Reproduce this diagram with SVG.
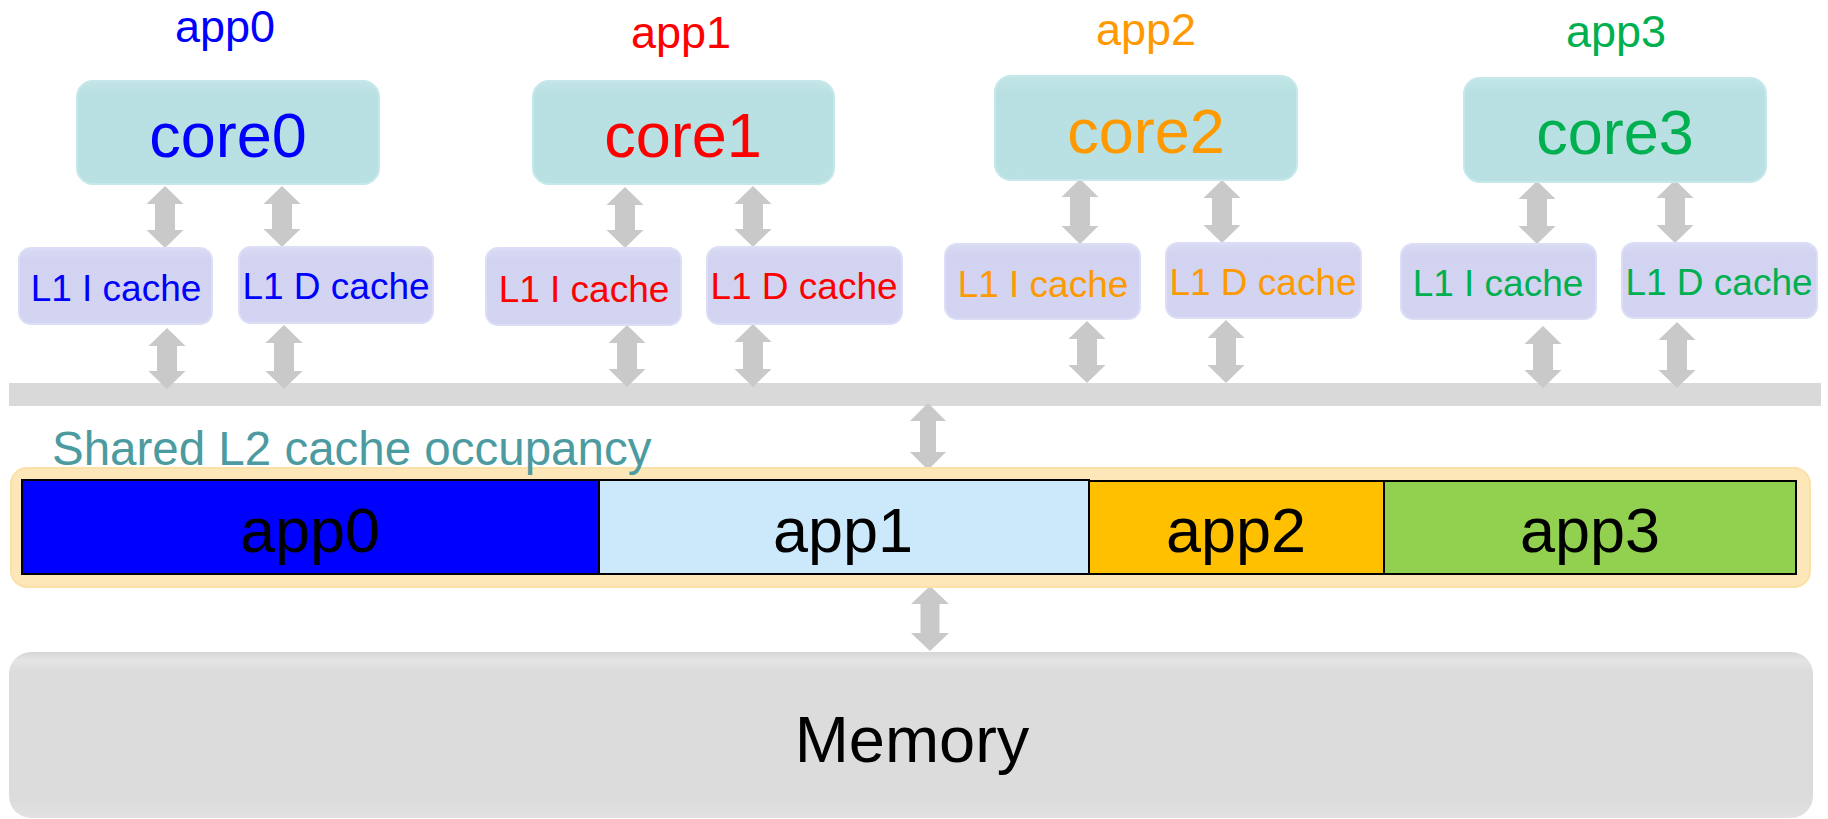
<svg xmlns="http://www.w3.org/2000/svg" width="1828" height="819" viewBox="0 0 1828 819">
<defs>
<linearGradient id="gCore" x1="0" y1="0" x2="0" y2="1">
<stop offset="0" stop-color="#c3e6e8"/><stop offset="0.15" stop-color="#b8dfe1"/><stop offset="1" stop-color="#b9e0e2"/>
</linearGradient>
<linearGradient id="gL1" x1="0" y1="0" x2="0" y2="1">
<stop offset="0" stop-color="#dadcf5"/><stop offset="0.15" stop-color="#d1d3f0"/><stop offset="1" stop-color="#d2d4f1"/>
</linearGradient>
<linearGradient id="gMem" x1="0" y1="0" x2="0" y2="1">
<stop offset="0" stop-color="#d6d6d6"/><stop offset="0.05" stop-color="#e4e4e4"/><stop offset="0.12" stop-color="#dcdcdc"/><stop offset="0.9" stop-color="#dcdcdc"/><stop offset="1" stop-color="#e2e2e2"/>
</linearGradient>
</defs>
<style>
.core{fill:url(#gCore);stroke:#c6e8ea;stroke-width:2}
.l1{fill:url(#gL1);stroke:#dcdef6;stroke-width:2}
.arrow{fill:#c9c9c9}
text{font-family:"Liberation Sans",Arial,sans-serif;text-anchor:middle}
.app{font-size:45px}
.ct{font-size:63px}
.lt{font-size:37px}
.seg{stroke:#000;stroke-width:2}
.st{font-size:63px;fill:#000}
.c0{fill:#0000ff}.c1{fill:#ff0000}.c2{fill:#ff9900}.c3{fill:#00b050}
</style>

<g id="bus"><rect x="9" y="383" width="1812" height="23" fill="#d9d9d9"/></g>

<g id="connectors">
<polygon class="arrow" points="165,186 183.5,204 175,204 175,230 183.5,230 165,248 146.5,230 155,230 155,204 146.5,204"/>
<polygon class="arrow" points="282,186 300.5,204 292,204 292,229 300.5,229 282,247 263.5,229 272,229 272,204 263.5,204"/>
<polygon class="arrow" points="167,328 185.5,346 177,346 177,371 185.5,371 167,389 148.5,371 157,371 157,346 148.5,346"/>
<polygon class="arrow" points="284,325 302.5,343 294,343 294,371 302.5,371 284,389 265.5,371 274,371 274,343 265.5,343"/>
<polygon class="arrow" points="625,187 643.5,205 635,205 635,230 643.5,230 625,248 606.5,230 615,230 615,205 606.5,205"/>
<polygon class="arrow" points="753,186 771.5,204 763,204 763,229 771.5,229 753,247 734.5,229 743,229 743,204 734.5,204"/>
<polygon class="arrow" points="627,325 645.5,343 637,343 637,369 645.5,369 627,387 608.5,369 617,369 617,343 608.5,343"/>
<polygon class="arrow" points="753,324 771.5,342 763,342 763,369 771.5,369 753,387 734.5,369 743,369 743,342 734.5,342"/>
<polygon class="arrow" points="1080,179 1098.5,197 1090,197 1090,226 1098.5,226 1080,244 1061.5,226 1070,226 1070,197 1061.5,197"/>
<polygon class="arrow" points="1222,180 1240.5,198 1232,198 1232,225 1240.5,225 1222,243 1203.5,225 1212,225 1212,198 1203.5,198"/>
<polygon class="arrow" points="1087,321 1105.5,339 1097,339 1097,365 1105.5,365 1087,383 1068.5,365 1077,365 1077,339 1068.5,339"/>
<polygon class="arrow" points="1226,320 1244.5,338 1236,338 1236,365 1244.5,365 1226,383 1207.5,365 1216,365 1216,338 1207.5,338"/>
<polygon class="arrow" points="1537,181 1555.5,199 1547,199 1547,226 1555.5,226 1537,244 1518.5,226 1527,226 1527,199 1518.5,199"/>
<polygon class="arrow" points="1675,180 1693.5,198 1685,198 1685,225 1693.5,225 1675,243 1656.5,225 1665,225 1665,198 1656.5,198"/>
<polygon class="arrow" points="1543,326 1561.5,344 1553,344 1553,370 1561.5,370 1543,388 1524.5,370 1533,370 1533,344 1524.5,344"/>
<polygon class="arrow" points="1677,322 1695.5,340 1687,340 1687,370 1695.5,370 1677,388 1658.5,370 1667,370 1667,340 1658.5,340"/>
<polygon class="arrow" points="928,403 946,421 936,421 936,452 946,452 928,470 910,452 920,452 920,421 910,421"/>
<polygon class="arrow" points="930,586 949,604 939.5,604 939.5,633 949,633 930,651 911,633 920.5,633 920.5,604 911,604"/>
</g>

<g id="core0">
<text class="app c0" x="225" y="42">app0</text>
<rect class="core" x="77" y="81" width="302" height="103" rx="16"/>
<text class="ct c0" x="228" y="157">core0</text>
</g>
<g id="l1i0"><rect class="l1" x="19" y="248" width="193" height="76" rx="12"/><text class="lt c0" x="116" y="301">L1 I cache</text></g>
<g id="l1d0"><rect class="l1" x="239" y="247" width="194" height="76" rx="12"/><text class="lt c0" x="336" y="299">L1 D cache</text></g>

<g id="core1">
<text class="app c1" x="681" y="48">app1</text>
<rect class="core" x="533" y="81" width="301" height="103" rx="16"/>
<text class="ct c1" x="683" y="157">core1</text>
</g>
<g id="l1i1"><rect class="l1" x="486" y="248" width="195" height="77" rx="12"/><text class="lt c1" x="584" y="302">L1 I cache</text></g>
<g id="l1d1"><rect class="l1" x="707" y="247" width="195" height="77" rx="12"/><text class="lt c1" x="804" y="299">L1 D cache</text></g>

<g id="core2">
<text class="app c2" x="1146" y="45">app2</text>
<rect class="core" x="995" y="76" width="302" height="104" rx="16"/>
<text class="ct c2" x="1146" y="153">core2</text>
</g>
<g id="l1i2"><rect class="l1" x="945" y="244" width="195" height="75" rx="12"/><text class="lt c2" x="1043" y="297">L1 I cache</text></g>
<g id="l1d2"><rect class="l1" x="1166" y="243" width="195" height="75" rx="12"/><text class="lt c2" x="1263" y="295">L1 D cache</text></g>

<g id="core3">
<text class="app c3" x="1616" y="47">app3</text>
<rect class="core" x="1464" y="78" width="302" height="104" rx="16"/>
<text class="ct c3" x="1615" y="154">core3</text>
</g>
<g id="l1i3"><rect class="l1" x="1401" y="244" width="195" height="75" rx="12"/><text class="lt c3" x="1498" y="296">L1 I cache</text></g>
<g id="l1d3"><rect class="l1" x="1622" y="243" width="195" height="75" rx="12"/><text class="lt c3" x="1719" y="295">L1 D cache</text></g>

<g id="l2">
<rect x="11" y="468" width="1799" height="119" rx="16" fill="#fde7b9" stroke="#fbe0a8" stroke-width="2"/>
<rect class="seg" x="22" y="480" width="577" height="94" fill="#0000ff"/>
<rect class="seg" x="599" y="480" width="490" height="94" fill="#cce9fb"/>
<rect class="seg" x="1089" y="481" width="295" height="93" fill="#ffc000"/>
<rect class="seg" x="1384" y="481" width="412" height="93" fill="#92d050"/>
<text class="st" x="310" y="552">app0</text>
<text class="st" x="843" y="552">app1</text>
<text class="st" x="1236" y="552">app2</text>
<text class="st" x="1590" y="552">app3</text>
<text x="52" y="465" style="font-size:47.5px;fill:#4b9ba0;text-anchor:start">Shared L2 cache occupancy</text>
</g>

<g id="memory">
<rect x="9" y="652" width="1804" height="166" rx="22" fill="url(#gMem)"/>
<text x="912" y="762" style="font-size:65px;fill:#000">Memory</text>
</g>
</svg>
